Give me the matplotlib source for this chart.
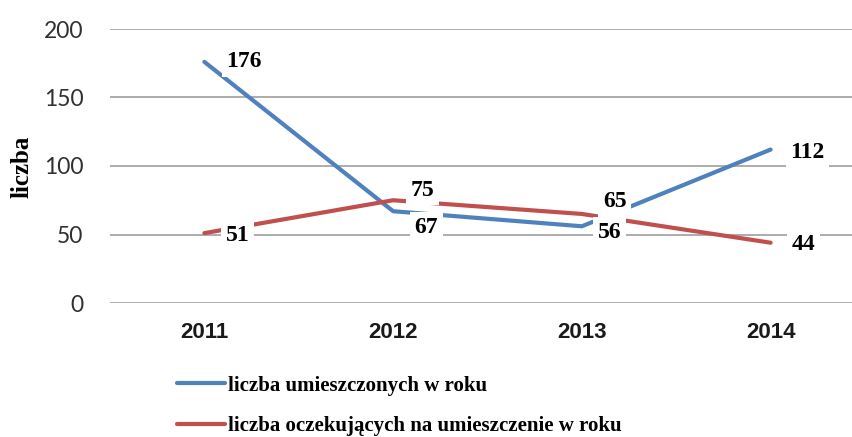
import matplotlib
matplotlib.use("Agg")
import matplotlib.pyplot as plt

years = ["2011", "2012", "2013", "2014"]
placed = [176, 67, 56, 112]
waiting = [51, 75, 65, 44]
series_names = ["liczba umieszczonych w roku", "liczba oczekujących na umieszczenie w roku"]
y_ticks = [0, 50, 100, 150, 200]

blue = "#4F81BD"
red = "#C0504D"

# label offsets in pixels (dx, dy) relative to point
placed_off = [(40, 0), (33, -16), (28, -6), (37, -3)]
waiting_off = [(33, -2), (29, 10), (33, 12), (33, -2)]

fig = plt.figure(figsize=(8.53, 4.37), dpi=100)
ax = fig.add_axes([110/853, 1-303/437, 755/853, 274/437])
x = list(range(len(years)))

ax.set_xlim(-0.5, len(years) - 0.5)
ax.set_ylim(0, 200)
ax.set_yticks(y_ticks)
ax.yaxis.grid(True, color="#A6A6A6", linewidth=1.3, zorder=0)
ax.set_axisbelow(True)
for s in ax.spines.values():
    s.set_visible(False)
ax.tick_params(axis="both", length=0)
ax.tick_params(axis="y", pad=19, labelsize=16.5, labelcolor="#303030")
ax.tick_params(axis="x", pad=14, labelsize=16, labelcolor="#1A1A1A")
ax.set_xticks(x)
ax.set_xticklabels(years, fontweight="bold", family="Liberation Sans")
for lab in ax.get_yticklabels():
    lab.set_family("Lato")

l1, = ax.plot(x, placed, color=blue, linewidth=3, solid_capstyle="round", zorder=2)
l2, = ax.plot(x, waiting, color=red, linewidth=3, solid_capstyle="round", zorder=3)

bbox = dict(boxstyle="square,pad=0.2", facecolor="white", edgecolor="none")
for vals, offs in ((placed, placed_off), (waiting, waiting_off)):
    for xi, v, (dx, dy) in zip(x, vals, offs):
        ax.annotate(str(v), (xi, v), xytext=(dx, dy), textcoords="offset pixels",
                    ha="center", va="center", fontsize=17, fontweight="bold",
                    family="Liberation Serif", bbox=bbox, zorder=5)

fig.text(22/853, 1-167/437, "liczba", rotation=90, ha="center", va="center",
         fontsize=18, fontweight="bold", family="Liberation Serif")

fig.legend([l1, l2], series_names, loc="center left", bbox_to_anchor=(177/853, 1-406/437),
           frameon=False, handlelength=2.3, handletextpad=0.15, borderpad=0,
           borderaxespad=0, labelspacing=1.0,
           prop=dict(family="Liberation Serif", weight="bold", size=15))

fig.savefig("out.png", dpi=100)
